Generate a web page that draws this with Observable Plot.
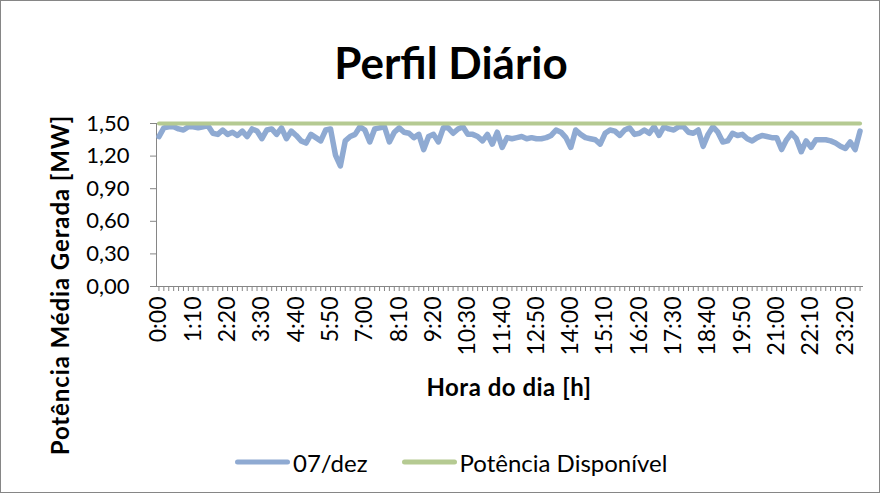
<!DOCTYPE html>
<html><head><meta charset="utf-8">
<script src="https://cdn.jsdelivr.net/npm/d3@7"></script>
<script src="https://cdn.jsdelivr.net/npm/@observablehq/plot@0.6"></script>
<style>
body{margin:0;background:#fff;}
#wrap{position:relative;width:880px;height:493px;font-family:Lato,"Open Sans",sans-serif;color:#000;overflow:hidden;}
#border{position:absolute;left:0;top:0;width:878px;height:491px;border:1px solid #868686;pointer-events:none;}
.abs{position:absolute;white-space:nowrap;}
#title{left:451px;top:62px;transform:translate(-50%,-50%);font-size:44px;font-weight:bold;}
#ylab{left:59px;top:285px;transform:translate(-50%,-50%) rotate(-90deg);font-size:24px;font-weight:bold;letter-spacing:0.9px;}
#xlab{left:509px;top:386px;transform:translate(-50%,-50%);font-size:24px;font-weight:bold;letter-spacing:0.5px;}
#legend{left:235px;top:462px;transform:translateY(-50%);font-size:24px;display:flex;align-items:center;}
.sw{display:inline-block;width:55px;height:5px;border-radius:3px;margin-right:3px;}
svg{position:absolute;left:0;top:0;}
</style>
</head><body><div id="wrap"></div>
<script>
// categories: 10-minute intervals of the day
const times = d3.range(144).map(i => `${Math.floor(i / 6)}:${String((i % 6) * 10).padStart(2, "0")}`);
const xTickLabels = times.filter((t, i) => i % 7 === 0);
const yTicks = [0, 0.3, 0.6, 0.9, 1.2, 1.5];
const seriesNames = ["07/dez", "Potência Disponível"];
const colors = ["#8faad2", "#b5ca92"];
// series 1: 07/dez (MW)
const dez07 = [
  1.38,1.46,1.47,1.47,1.45,1.44,1.47,1.47,1.46,1.47,1.48,1.41,1.40,1.44,1.40,1.42,1.39,1.43,1.38,1.45,
  1.43,1.36,1.44,1.45,1.40,1.46,1.36,1.43,1.39,1.34,1.32,1.40,1.37,1.34,1.44,1.45,1.21,1.11,1.34,1.38,
  1.40,1.47,1.44,1.33,1.45,1.46,1.47,1.33,1.42,1.46,1.42,1.41,1.37,1.40,1.26,1.38,1.40,1.33,1.46,1.46,
  1.41,1.45,1.47,1.40,1.40,1.38,1.34,1.40,1.31,1.42,1.28,1.37,1.36,1.37,1.38,1.36,1.37,1.36,1.36,1.37,
  1.39,1.44,1.42,1.37,1.28,1.44,1.40,1.37,1.36,1.35,1.31,1.41,1.44,1.43,1.39,1.44,1.46,1.40,1.41,1.44,
  1.41,1.47,1.39,1.47,1.45,1.44,1.47,1.47,1.42,1.41,1.44,1.29,1.40,1.47,1.42,1.33,1.34,1.41,1.39,1.40,
  1.36,1.34,1.37,1.39,1.38,1.37,1.37,1.26,1.35,1.41,1.36,1.24,1.34,1.28,1.35,1.35,1.35,1.34,1.32,1.29,
  1.27,1.33,1.26,1.43
];
// series 2: Potência Disponível (MW), constant over the day
const potenciaDisponivel = 1.5;

const data = times.map((t, i) => ({t, v: dez07[i]}));
const dispData = [{t: times[0], v: potenciaDisponivel}, {t: times[times.length - 1], v: potenciaDisponivel}];
const fmt = d => d.toFixed(2).replace(".", ",");

const plot = Plot.plot({
  width: 880, height: 493,
  marginLeft: 156, marginRight: 18, marginTop: 123, marginBottom: 207,
  style: {fontFamily: "Lato, 'Open Sans', sans-serif", background: "transparent"},
  x: {type: "point", domain: times, padding: 0.5},
  y: {domain: [0, 1.5]},
  marks: [
    Plot.axisY({ticks: yTicks, tickFormat: fmt, tickSize: 6, tickPadding: 21, fontSize: 22, label: null, stroke: "#868686", color: "#000"}),
    Plot.axisX({ticks: times, tickSize: 5, tickFormat: () => "", label: null, stroke: "#868686"}),
    Plot.axisX({ticks: xTickLabels, tickSize: 0, tickRotate: -90, tickPadding: 10, fontSize: 23, label: null, color: "#000"}),
    Plot.frame({anchor: "left", stroke: "#868686"}),
    Plot.frame({anchor: "bottom", stroke: "#868686"}),
    Plot.line(data, {x: "t", y: "v", stroke: colors[0], strokeWidth: 5.5, strokeLinejoin: "round", strokeLinecap: "round"}),
    Plot.line(dispData, {x: "t", y: "v", stroke: colors[1], strokeWidth: 4})
  ]
});

const wrap = document.getElementById("wrap");
wrap.appendChild(plot);
function add(id, html) { const d = document.createElement("div"); d.id = id; d.className = "abs"; d.innerHTML = html; wrap.appendChild(d); return d; }
add("title", "Perfil Diário");
add("ylab", "Potência Média Gerada [MW]");
add("xlab", "Hora do dia [h]");
add("legend", seriesNames.map((n, i) => `<span class="sw" style="background:${colors[i]}"></span><span style="margin-right:${i === 0 ? 34 : 0}px">${n}</span>`).join(""));
const b = document.createElement("div"); b.id = "border"; wrap.appendChild(b);
</script>
</body></html>
